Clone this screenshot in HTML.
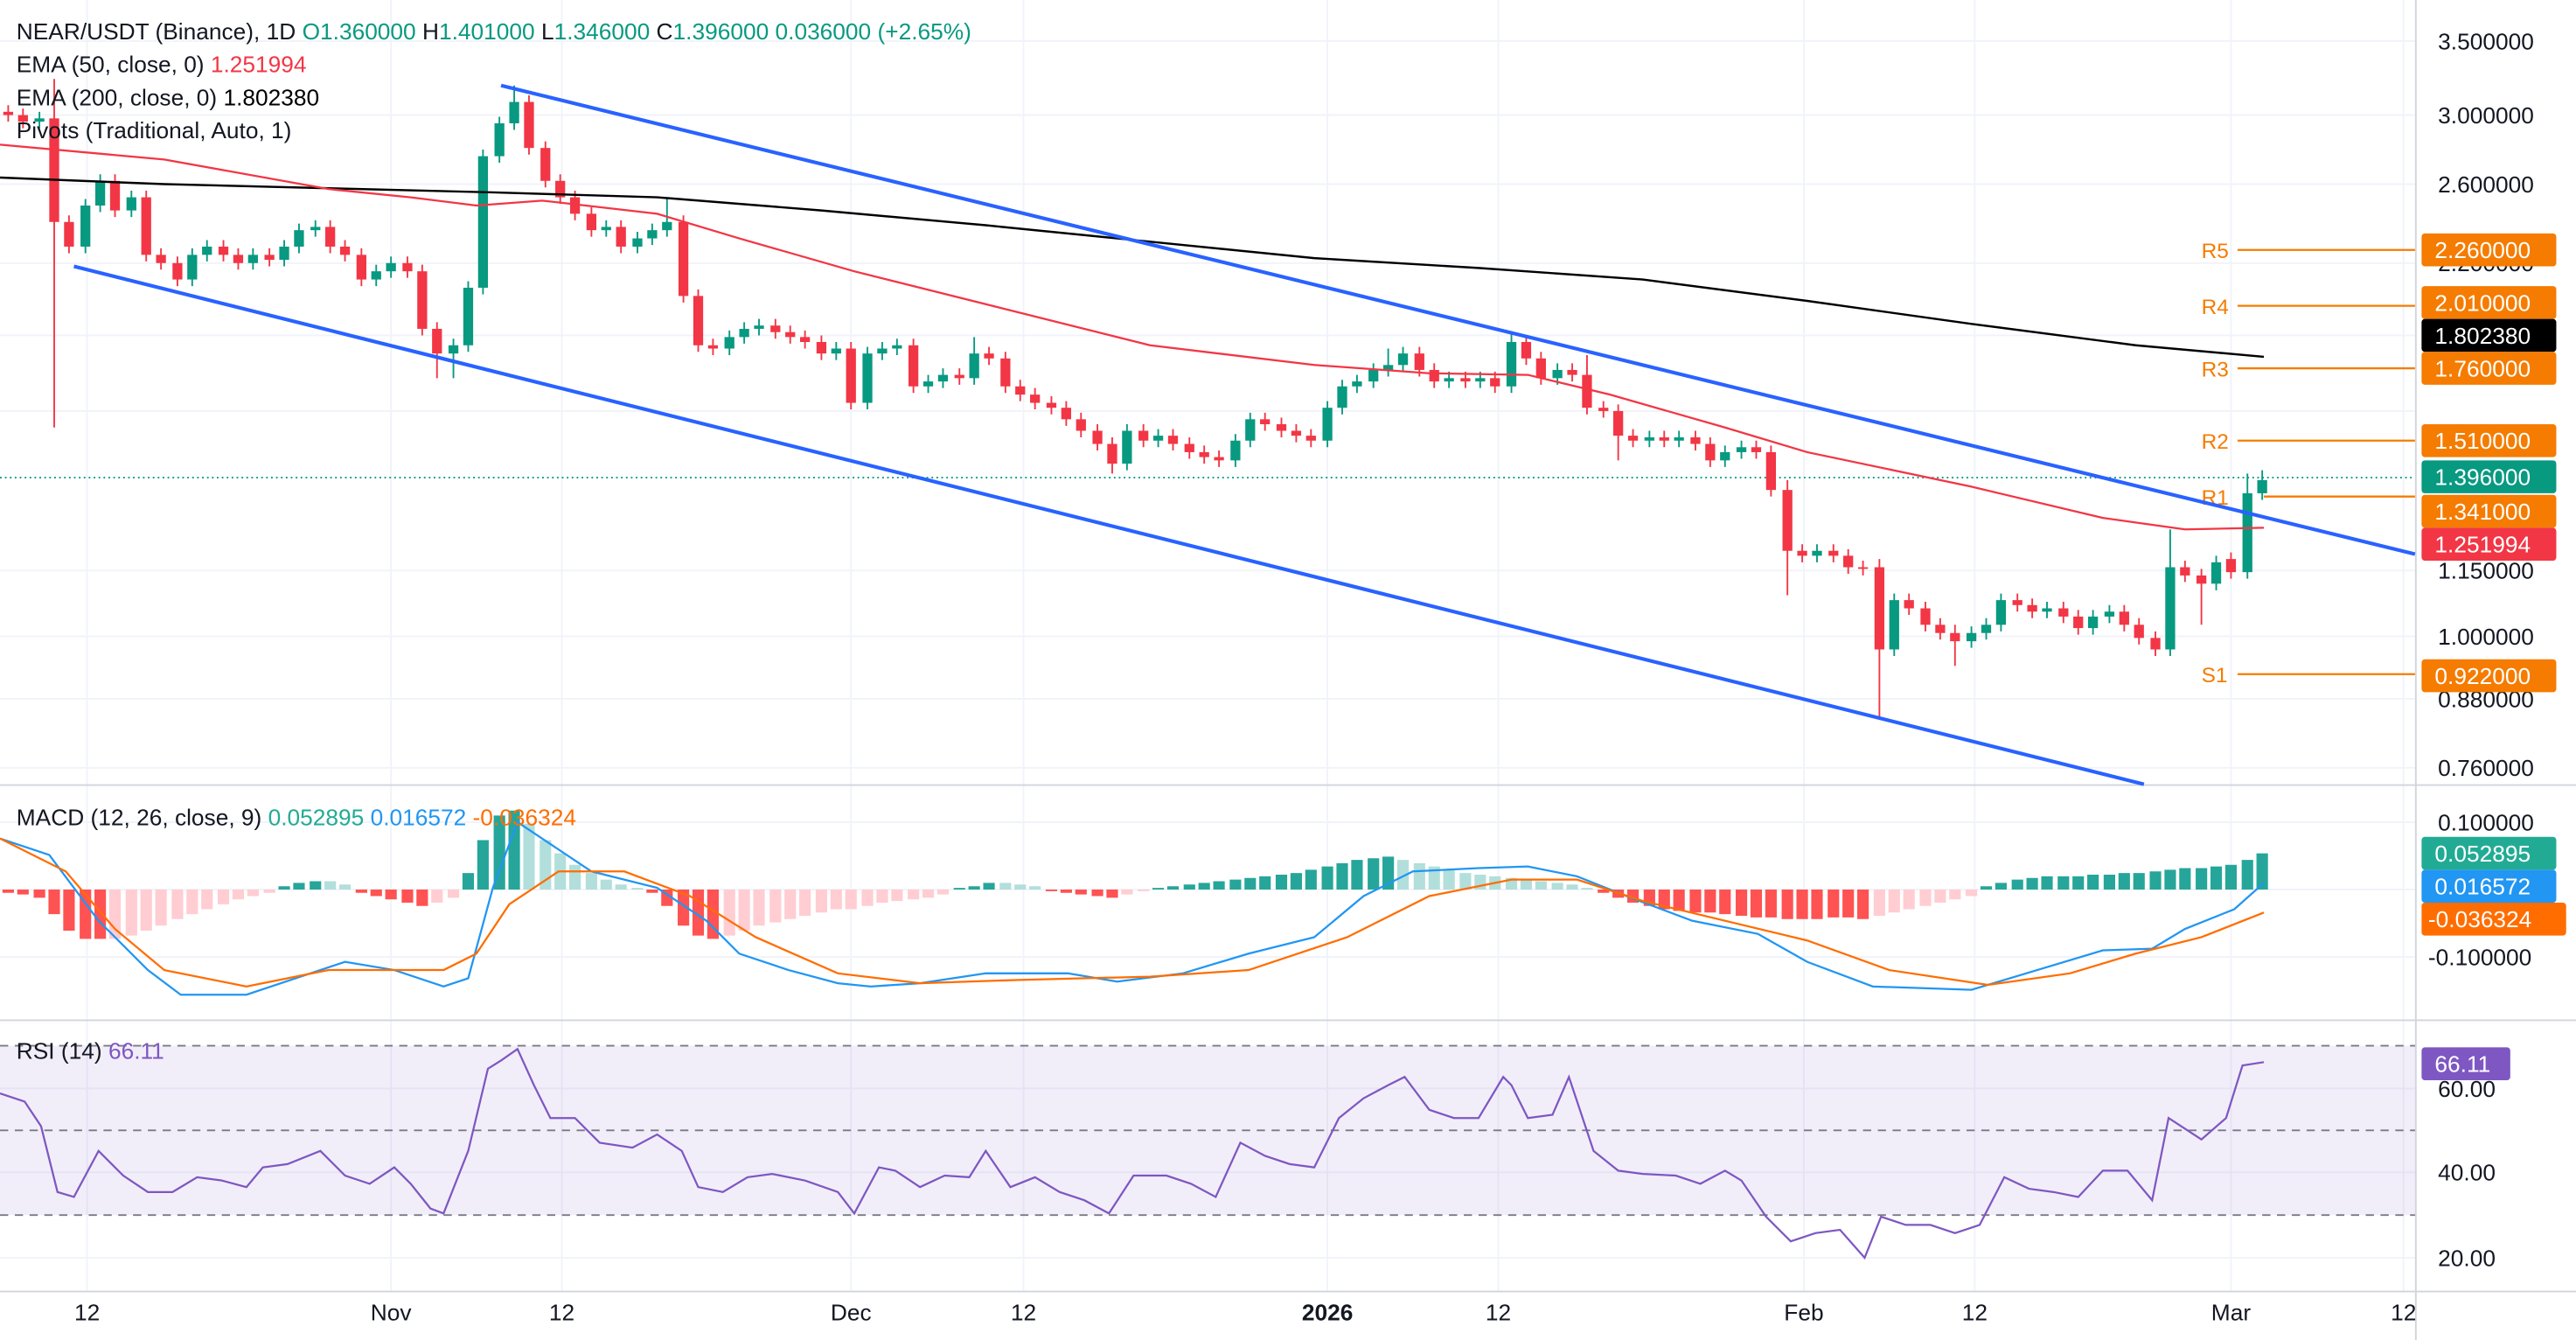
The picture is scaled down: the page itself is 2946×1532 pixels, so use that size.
<!DOCTYPE html>
<html><head><meta charset="utf-8">
<style>
html,body{margin:0;padding:0;background:#fff;}
svg{display:block;}
text{font-family:"Liberation Sans",sans-serif;}
</style></head>
<body>
<svg width="2946" height="1532" viewBox="0 0 1568 815" preserveAspectRatio="none" xmlns="http://www.w3.org/2000/svg">
<rect width="1568" height="815" fill="#fff"/>
<g stroke="#f0f3fa" stroke-width="1">
<line x1="0" y1="25" x2="1470" y2="25"/><line x1="0" y1="70" x2="1470" y2="70"/><line x1="0" y1="112" x2="1470" y2="112"/><line x1="0" y1="160" x2="1470" y2="160"/><line x1="0" y1="204" x2="1470" y2="204"/><line x1="0" y1="250" x2="1470" y2="250"/><line x1="0" y1="347" x2="1470" y2="347"/><line x1="0" y1="387" x2="1470" y2="387"/><line x1="0" y1="425" x2="1470" y2="425"/><line x1="0" y1="467" x2="1470" y2="467"/>
<line x1="0" y1="500" x2="1470" y2="500"/><line x1="0" y1="541" x2="1470" y2="541"/><line x1="0" y1="582" x2="1470" y2="582"/>
<line x1="0" y1="662" x2="1470" y2="662"/><line x1="0" y1="713" x2="1470" y2="713"/><line x1="0" y1="765" x2="1470" y2="765"/>
<line x1="53" y1="0" x2="53" y2="785"/><line x1="238" y1="0" x2="238" y2="785"/><line x1="342" y1="0" x2="342" y2="785"/><line x1="518" y1="0" x2="518" y2="785"/><line x1="623" y1="0" x2="623" y2="785"/><line x1="808" y1="0" x2="808" y2="785"/><line x1="912" y1="0" x2="912" y2="785"/><line x1="1098" y1="0" x2="1098" y2="785"/><line x1="1202" y1="0" x2="1202" y2="785"/><line x1="1358" y1="0" x2="1358" y2="785"/><line x1="1463" y1="0" x2="1463" y2="785"/>
</g>
<g stroke="#d1d4dc" stroke-width="1">
<line x1="0" y1="477.5" x2="1568" y2="477.5"/><line x1="0" y1="620.5" x2="1568" y2="620.5"/><line x1="0" y1="785.5" x2="1568" y2="785.5"/><line x1="1470.5" y1="0" x2="1470.5" y2="815"/>
</g>
<rect x="0" y="636" width="1470" height="103" fill="#7e57c2" fill-opacity="0.1"/>
<g stroke="#787b86" stroke-dasharray="5,4" stroke-width="1">
<line x1="0" y1="636" x2="1470" y2="636"/><line x1="0" y1="687.5" x2="1470" y2="687.5"/><line x1="0" y1="739" x2="1470" y2="739"/>
</g>
<line x1="0" y1="290.5" x2="1470" y2="290.5" stroke="#089981" stroke-dasharray="1,2" stroke-width="1"/>
<g stroke="#f57c00" stroke-width="1.2">
<line x1="1362" y1="152" x2="1470" y2="152"/><line x1="1362" y1="186" x2="1470" y2="186"/><line x1="1362" y1="224" x2="1470" y2="224"/><line x1="1362" y1="268" x2="1470" y2="268"/><line x1="1378" y1="302" x2="1470" y2="302"/><line x1="1362" y1="410" x2="1470" y2="410"/>
</g>
<g fill="#f57c00" font-size="13">
<text x="1340" y="157">R5</text><text x="1340" y="191">R4</text><text x="1340" y="229">R3</text><text x="1340" y="273">R2</text><text x="1340" y="307">R1</text><text x="1340" y="415">S1</text>
</g>
<!-- candles red -->
<g fill="#f23645">
<path stroke="#f23645" stroke-width="1" d="M5 64V74M14 66V78M33 48V260M42 131V154M70 106V132M89 116V159M98 151V164M108 156V174M136 146V159M145 151V164M164 151V162M201 134V154M210 146V159M220 151V174M248 156V169M257 161V204M266 196V230M322 58V94M332 86V114M341 106V124M350 116V134M360 126V144M378 134V154M416 131V184M425 176V214M434 206V216M472 194V206M481 198V209M490 201V212M500 204V219M518 208V249M556 206V239M584 224V234M602 211V222M612 214V239M621 231V244M630 236V249M640 241V252M649 244V259M658 251V266M668 258V274M677 266V288M696 258V272M714 261V274M724 266V279M733 271V282M742 274V284M770 251V262M780 254V266M789 258V269M798 261V272M864 211V229M873 221V236M892 226V236M910 226V239M929 204V222M938 214V234M957 221V232M966 216V252M976 244V254M985 246V280M994 261V272M1013 262V272M1032 262V274M1041 266V284M1069 268V279M1078 271V302M1088 292V362M1097 331V342M1116 331V342M1125 334V349M1134 341V350M1144 340V437M1162 361V374M1172 366V384M1181 376V389M1190 380V405M1228 361V372M1237 364V376M1256 366V379M1265 371V386M1293 368V384M1302 376V392M1312 384V399M1330 341V354M1340 346V380M1358 336V352"/>
<rect x="2" y="68" width="6" height="2"/><rect x="11" y="70" width="6" height="4"/><rect x="30" y="72" width="6" height="63"/><rect x="39" y="135" width="6" height="15"/><rect x="67" y="110" width="6" height="18"/><rect x="86" y="120" width="6" height="35"/><rect x="95" y="155" width="6" height="5"/><rect x="105" y="160" width="6" height="10"/><rect x="133" y="150" width="6" height="5"/><rect x="142" y="155" width="6" height="5"/><rect x="161" y="155" width="6" height="3"/><rect x="198" y="138" width="6" height="12"/><rect x="207" y="150" width="6" height="5"/><rect x="217" y="155" width="6" height="15"/><rect x="245" y="160" width="6" height="5"/><rect x="254" y="165" width="6" height="35"/><rect x="263" y="200" width="6" height="15"/><rect x="319" y="62" width="6" height="28"/><rect x="329" y="90" width="6" height="20"/><rect x="338" y="110" width="6" height="10"/><rect x="347" y="120" width="6" height="10"/><rect x="357" y="130" width="6" height="10"/><rect x="375" y="138" width="6" height="12"/><rect x="413" y="135" width="6" height="45"/><rect x="422" y="180" width="6" height="30"/><rect x="431" y="210" width="6" height="2"/><rect x="469" y="198" width="6" height="4"/><rect x="478" y="202" width="6" height="3"/><rect x="487" y="205" width="6" height="3"/><rect x="497" y="208" width="6" height="7"/><rect x="515" y="212" width="6" height="33"/><rect x="553" y="210" width="6" height="25"/><rect x="581" y="228" width="6" height="2"/><rect x="599" y="215" width="6" height="3"/><rect x="609" y="218" width="6" height="17"/><rect x="618" y="235" width="6" height="5"/><rect x="627" y="240" width="6" height="5"/><rect x="637" y="245" width="6" height="3"/><rect x="646" y="248" width="6" height="7"/><rect x="655" y="255" width="6" height="7"/><rect x="665" y="262" width="6" height="8"/><rect x="674" y="270" width="6" height="12"/><rect x="693" y="262" width="6" height="6"/><rect x="711" y="265" width="6" height="5"/><rect x="721" y="270" width="6" height="5"/><rect x="730" y="275" width="6" height="3"/><rect x="739" y="278" width="6" height="2"/><rect x="767" y="255" width="6" height="3"/><rect x="777" y="258" width="6" height="4"/><rect x="786" y="262" width="6" height="3"/><rect x="795" y="265" width="6" height="3"/><rect x="861" y="215" width="6" height="10"/><rect x="870" y="225" width="6" height="7"/><rect x="889" y="230" width="6" height="2"/><rect x="907" y="230" width="6" height="5"/><rect x="926" y="208" width="6" height="10"/><rect x="935" y="218" width="6" height="12"/><rect x="954" y="225" width="6" height="3"/><rect x="963" y="228" width="6" height="20"/><rect x="973" y="248" width="6" height="2"/><rect x="982" y="250" width="6" height="15"/><rect x="991" y="265" width="6" height="3"/><rect x="1010" y="266" width="6" height="2"/><rect x="1029" y="266" width="6" height="4"/><rect x="1038" y="270" width="6" height="10"/><rect x="1066" y="272" width="6" height="3"/><rect x="1075" y="275" width="6" height="23"/><rect x="1085" y="298" width="6" height="37"/><rect x="1094" y="335" width="6" height="3"/><rect x="1113" y="335" width="6" height="3"/><rect x="1122" y="338" width="6" height="7"/><rect x="1131" y="345" width="6" height="1"/><rect x="1141" y="345" width="6" height="50"/><rect x="1159" y="365" width="6" height="5"/><rect x="1169" y="370" width="6" height="10"/><rect x="1178" y="380" width="6" height="5"/><rect x="1187" y="385" width="6" height="5"/><rect x="1225" y="365" width="6" height="3"/><rect x="1234" y="368" width="6" height="4"/><rect x="1253" y="370" width="6" height="5"/><rect x="1262" y="375" width="6" height="7"/><rect x="1290" y="372" width="6" height="8"/><rect x="1299" y="380" width="6" height="8"/><rect x="1309" y="388" width="6" height="7"/><rect x="1327" y="345" width="6" height="5"/><rect x="1337" y="350" width="6" height="5"/><rect x="1355" y="340" width="6" height="8"/>
</g>
<!-- candles green -->
<g fill="#089981">
<path stroke="#089981" stroke-width="1" d="M24 68V78M52 121V154M61 106V129M80 116V132M117 151V174M126 146V159M154 151V164M173 146V162M182 136V154M192 134V144M229 161V174M238 156V169M276 206V230M285 171V214M294 91V179M304 71V99M313 52V79M369 134V144M388 141V154M397 136V149M406 120V144M444 201V216M453 196V209M462 194V204M509 208V219M528 211V249M537 208V219M546 206V216M565 228V239M574 224V236M593 205V234M686 258V286M705 261V272M752 264V284M761 251V272M808 244V272M817 231V252M826 228V239M836 221V236M845 212V229M854 211V226M882 226V236M901 226V236M920 202V239M948 221V234M1004 262V272M1022 262V272M1050 271V284M1060 268V279M1106 331V342M1153 361V399M1200 381V394M1209 376V389M1218 361V384M1246 366V376M1274 371V386M1284 368V379M1321 322V399M1349 338V359M1368 288V352M1377 286V304"/>
<rect x="21" y="72" width="6" height="2"/><rect x="49" y="125" width="6" height="25"/><rect x="58" y="110" width="6" height="15"/><rect x="77" y="120" width="6" height="8"/><rect x="114" y="155" width="6" height="15"/><rect x="123" y="150" width="6" height="5"/><rect x="151" y="155" width="6" height="5"/><rect x="170" y="150" width="6" height="8"/><rect x="179" y="140" width="6" height="10"/><rect x="189" y="138" width="6" height="2"/><rect x="226" y="165" width="6" height="5"/><rect x="235" y="160" width="6" height="5"/><rect x="273" y="210" width="6" height="5"/><rect x="282" y="175" width="6" height="35"/><rect x="291" y="95" width="6" height="80"/><rect x="301" y="75" width="6" height="20"/><rect x="310" y="62" width="6" height="13"/><rect x="366" y="138" width="6" height="2"/><rect x="385" y="145" width="6" height="5"/><rect x="394" y="140" width="6" height="5"/><rect x="403" y="135" width="6" height="5"/><rect x="441" y="205" width="6" height="7"/><rect x="450" y="200" width="6" height="5"/><rect x="459" y="198" width="6" height="2"/><rect x="506" y="212" width="6" height="3"/><rect x="525" y="215" width="6" height="30"/><rect x="534" y="212" width="6" height="3"/><rect x="543" y="210" width="6" height="2"/><rect x="562" y="232" width="6" height="3"/><rect x="571" y="228" width="6" height="4"/><rect x="590" y="215" width="6" height="15"/><rect x="683" y="262" width="6" height="20"/><rect x="702" y="265" width="6" height="3"/><rect x="749" y="268" width="6" height="12"/><rect x="758" y="255" width="6" height="13"/><rect x="805" y="248" width="6" height="20"/><rect x="814" y="235" width="6" height="13"/><rect x="823" y="232" width="6" height="3"/><rect x="833" y="225" width="6" height="7"/><rect x="842" y="222" width="6" height="3"/><rect x="851" y="215" width="6" height="7"/><rect x="879" y="230" width="6" height="2"/><rect x="898" y="230" width="6" height="2"/><rect x="917" y="208" width="6" height="27"/><rect x="945" y="225" width="6" height="5"/><rect x="1001" y="266" width="6" height="2"/><rect x="1019" y="266" width="6" height="2"/><rect x="1047" y="275" width="6" height="5"/><rect x="1057" y="272" width="6" height="3"/><rect x="1103" y="335" width="6" height="3"/><rect x="1150" y="365" width="6" height="30"/><rect x="1197" y="385" width="6" height="5"/><rect x="1206" y="380" width="6" height="5"/><rect x="1215" y="365" width="6" height="15"/><rect x="1243" y="370" width="6" height="2"/><rect x="1271" y="375" width="6" height="7"/><rect x="1281" y="372" width="6" height="3"/><rect x="1318" y="345" width="6" height="50"/><rect x="1346" y="342" width="6" height="13"/><rect x="1365" y="300" width="6" height="48"/><rect x="1374" y="292" width="6" height="8"/>
</g>
<polyline fill="none" stroke="#000" stroke-width="1.3" points="0,108 100,112 300,117 400,120 500,128 600,137 700,147 800,157 900,163 1000,170 1100,183 1200,197 1300,210 1378,217"/>
<polyline fill="none" stroke="#f23645" stroke-width="1.2" points="0,88 100,97 200,115 250,120 290,125 330,122 400,130 450,145 520,165 600,185 700,210 800,222 870,227 930,228 980,240 1050,260 1100,275 1200,296 1280,315 1330,322 1378,321"/>
<line x1="305" y1="52" x2="1470" y2="337" stroke="#2962ff" stroke-width="2.2"/>
<line x1="45" y1="162" x2="1305" y2="477" stroke="#2962ff" stroke-width="2.2"/>
<!-- MACD histogram -->
<path fill="#ff5252" d="M1.5 541h7v2h-7zM10.5 541h7v3h-7zM20.5 541h7v5h-7zM29.5 541h7v15h-7zM38.5 541h7v25h-7zM48.5 541h7v30h-7zM57.5 541h7v30h-7zM216.5 541h7v2h-7zM225.5 541h7v4h-7zM234.5 541h7v6h-7zM244.5 541h7v8h-7zM253.5 541h7v10h-7zM393.5 541h7v2h-7zM402.5 541h7v10h-7zM412.5 541h7v22h-7zM421.5 541h7v28h-7zM430.5 541h7v30h-7zM636.5 541h7v1h-7zM645.5 541h7v2h-7zM654.5 541h7v3h-7zM664.5 541h7v4h-7zM673.5 541h7v5h-7zM972.5 541h7v2h-7zM981.5 541h7v5h-7zM990.5 541h7v8h-7zM1000.5 541h7v10h-7zM1009.5 541h7v12h-7zM1018.5 541h7v13h-7zM1028.5 541h7v14h-7zM1037.5 541h7v14h-7zM1046.5 541h7v15h-7zM1056.5 541h7v16h-7zM1065.5 541h7v17h-7zM1074.5 541h7v17h-7zM1084.5 541h7v18h-7zM1093.5 541h7v18h-7zM1102.5 541h7v18h-7zM1112.5 541h7v17h-7zM1121.5 541h7v17h-7zM1130.5 541h7v18h-7z"/>
<path fill="#ffcdd2" d="M66.5 541h7v30h-7zM76.5 541h7v28h-7zM85.5 541h7v25h-7zM94.5 541h7v22h-7zM104.5 541h7v18h-7zM113.5 541h7v15h-7zM122.5 541h7v12h-7zM132.5 541h7v9h-7zM141.5 541h7v6h-7zM150.5 541h7v4h-7zM160.5 541h7v2h-7zM262.5 541h7v8h-7zM272.5 541h7v5h-7zM440.5 541h7v28h-7zM449.5 541h7v25h-7zM458.5 541h7v22h-7zM468.5 541h7v20h-7zM477.5 541h7v18h-7zM486.5 541h7v16h-7zM496.5 541h7v14h-7zM505.5 541h7v12h-7zM514.5 541h7v12h-7zM524.5 541h7v10h-7zM533.5 541h7v8h-7zM542.5 541h7v7h-7zM552.5 541h7v6h-7zM561.5 541h7v5h-7zM570.5 541h7v3h-7zM682.5 541h7v3h-7zM692.5 541h7v1h-7zM1140.5 541h7v16h-7zM1149.5 541h7v14h-7zM1158.5 541h7v12h-7zM1168.5 541h7v10h-7zM1177.5 541h7v8h-7zM1186.5 541h7v6h-7zM1196.5 541h7v4h-7z"/>
<path fill="#26a69a" d="M169.5 539h7v2h-7zM178.5 537h7v4h-7zM188.5 536h7v5h-7zM281.5 531h7v10h-7zM290.5 511h7v30h-7zM300.5 496h7v45h-7zM309.5 493h7v48h-7zM580.5 540h7v1h-7zM589.5 539h7v2h-7zM598.5 537h7v4h-7zM701.5 540h7v1h-7zM710.5 539h7v2h-7zM720.5 538h7v3h-7zM729.5 537h7v4h-7zM738.5 536h7v5h-7zM748.5 535h7v6h-7zM757.5 534h7v7h-7zM766.5 533h7v8h-7zM776.5 532h7v9h-7zM785.5 531h7v10h-7zM794.5 529h7v12h-7zM804.5 527h7v14h-7zM813.5 525h7v16h-7zM822.5 523h7v18h-7zM832.5 522h7v19h-7zM841.5 521h7v20h-7zM1205.5 539h7v2h-7zM1214.5 537h7v4h-7zM1224.5 535h7v6h-7zM1233.5 534h7v7h-7zM1242.5 533h7v8h-7zM1252.5 533h7v8h-7zM1261.5 533h7v8h-7zM1270.5 532h7v9h-7zM1280.5 532h7v9h-7zM1289.5 531h7v10h-7zM1298.5 531h7v10h-7zM1308.5 530h7v11h-7zM1317.5 529h7v12h-7zM1326.5 528h7v13h-7zM1336.5 528h7v13h-7zM1345.5 527h7v14h-7zM1354.5 526h7v15h-7zM1364.5 523h7v18h-7zM1373.5 519h7v22h-7z"/>
<path fill="#b2dfdb" d="M197.5 536h7v5h-7zM206.5 538h7v3h-7zM318.5 501h7v40h-7zM328.5 511h7v30h-7zM337.5 519h7v22h-7zM346.5 526h7v15h-7zM356.5 531h7v10h-7zM365.5 535h7v6h-7zM374.5 538h7v3h-7zM384.5 540h7v1h-7zM608.5 537h7v4h-7zM617.5 538h7v3h-7zM626.5 539h7v2h-7zM850.5 523h7v18h-7zM860.5 525h7v16h-7zM869.5 527h7v14h-7zM878.5 529h7v12h-7zM888.5 531h7v10h-7zM897.5 532h7v9h-7zM906.5 533h7v8h-7zM916.5 534h7v7h-7zM925.5 535h7v6h-7zM934.5 536h7v5h-7zM944.5 537h7v4h-7zM953.5 538h7v3h-7zM962.5 540h7v1h-7z"/>
<polyline fill="none" stroke="#2196f3" stroke-width="1.2" points="0,510 30,520 60,560 90,590 110,605 150,605 180,595 210,585 240,590 270,600 285,595 300,540 315,500 330,510 360,530 400,540 430,560 450,580 480,590 510,598 530,600 560,598 600,592 650,592 680,597 720,592 760,580 800,570 830,545 860,530 900,528 930,527 960,533 990,545 1030,560 1070,568 1100,585 1140,600 1200,602 1240,590 1280,578 1310,577 1330,565 1360,553 1378,537"/>
<polyline fill="none" stroke="#ff6d00" stroke-width="1.2" points="0,510 40,530 70,565 100,590 150,600 200,590 270,590 290,580 310,550 340,530 380,530 420,545 460,570 510,592 560,598 620,596 700,594 760,590 820,570 870,545 920,535 960,535 1000,548 1050,560 1100,572 1150,590 1210,599 1260,592 1300,580 1340,570 1378,555"/>
<polyline fill="none" stroke="#7e57c2" stroke-width="1.2" points="0,665 15,670 25,685 35,725 45,728 60,700 75,715 90,725 105,725 120,716 135,718 150,722 160,710 175,708 195,700 210,715 225,720 240,710 250,720 262,735 270,738 285,700 297,650 305,645 315,638 325,660 335,680 350,680 365,695 385,698 400,690 415,700 425,722 440,725 455,716 470,714 490,718 510,725 520,738 535,710 545,712 560,722 575,715 590,716 600,700 615,722 630,716 645,725 660,730 675,738 690,715 710,715 725,720 740,728 755,695 770,703 785,708 800,710 815,680 830,668 845,660 855,655 870,675 885,680 900,680 915,655 920,660 930,680 945,678 955,655 970,700 985,712 1000,714 1020,715 1035,720 1050,712 1060,718 1075,740 1090,755 1105,750 1120,748 1135,765 1145,740 1160,745 1175,745 1190,750 1205,745 1220,716 1235,723 1250,725 1265,728 1280,712 1295,712 1310,730 1320,680 1340,693 1355,680 1365,648 1378,646"/>
<g font-size="14" fill="#131722">
<text x="10" y="24">NEAR/USDT (Binance), 1D <tspan fill="#089981">O1.360000</tspan> H<tspan fill="#089981">1.401000</tspan> L<tspan fill="#089981">1.346000</tspan> C<tspan fill="#089981">1.396000</tspan> <tspan fill="#089981">0.036000 (+2.65%)</tspan></text>
<text x="10" y="44">EMA (50, close, 0) <tspan fill="#f23645">1.251994</tspan></text>
<text x="10" y="64">EMA (200, close, 0) <tspan fill="#000">1.802380</tspan></text>
<text x="10" y="84">Pivots (Traditional, Auto, 1)</text>
<text x="10" y="502">MACD (12, 26, close, 9) <tspan fill="#22ab94">0.052895</tspan> <tspan fill="#2196f3">0.016572</tspan> <tspan fill="#ff6d00">-0.036324</tspan></text>
<text x="10" y="644">RSI (14) <tspan fill="#7e57c2">66.11</tspan></text>
</g>
<g font-size="14" fill="#131722">
<text x="1484" y="30">3.500000</text><text x="1484" y="75">3.000000</text><text x="1484" y="117">2.600000</text><text x="1484" y="165">2.200000</text><text x="1484" y="352">1.150000</text><text x="1484" y="392">1.000000</text><text x="1484" y="430">0.880000</text><text x="1484" y="472">0.760000</text>
<text x="1484" y="505">0.100000</text><text x="1478" y="587">-0.100000</text>
<text x="1484" y="667">60.00</text><text x="1484" y="718">40.00</text><text x="1484" y="770">20.00</text>
</g>
<g font-size="14" fill="#fff">
<rect x="1474" y="142" width="82" height="20" rx="2" fill="#f57c00"/><text x="1482" y="157">2.260000</text>
<rect x="1474" y="174" width="82" height="20" rx="2" fill="#f57c00"/><text x="1482" y="189">2.010000</text>
<rect x="1474" y="194" width="82" height="20" rx="2" fill="#000"/><text x="1482" y="209">1.802380</text>
<rect x="1474" y="214" width="82" height="20" rx="2" fill="#f57c00"/><text x="1482" y="229">1.760000</text>
<rect x="1474" y="258" width="82" height="20" rx="2" fill="#f57c00"/><text x="1482" y="273">1.510000</text>
<rect x="1474" y="280" width="82" height="20" rx="2" fill="#089981"/><text x="1482" y="295">1.396000</text>
<rect x="1474" y="301" width="82" height="20" rx="2" fill="#f57c00"/><text x="1482" y="316">1.341000</text>
<rect x="1474" y="321" width="82" height="20" rx="2" fill="#f23645"/><text x="1482" y="336">1.251994</text>
<rect x="1474" y="401" width="82" height="20" rx="2" fill="#f57c00"/><text x="1482" y="416">0.922000</text>
<rect x="1474" y="509" width="82" height="20" rx="2" fill="#22ab94"/><text x="1482" y="524">0.052895</text>
<rect x="1474" y="529" width="82" height="20" rx="2" fill="#2196f3"/><text x="1482" y="544">0.016572</text>
<rect x="1474" y="549" width="88" height="20" rx="2" fill="#ff6d00"/><text x="1478" y="564">-0.036324</text>
<rect x="1474" y="637" width="54" height="20" rx="2" fill="#7e57c2"/><text x="1482" y="652">66.11</text>
</g>
<g font-size="14" fill="#131722" text-anchor="middle">
<text x="53" y="803">12</text><text x="238" y="803">Nov</text><text x="342" y="803">12</text><text x="518" y="803">Dec</text><text x="623" y="803">12</text><text x="808" y="803" font-weight="bold">2026</text><text x="912" y="803">12</text><text x="1098" y="803">Feb</text><text x="1202" y="803">12</text><text x="1358" y="803">Mar</text><text x="1463" y="803">12</text>
</g>
</svg>
</body></html>
